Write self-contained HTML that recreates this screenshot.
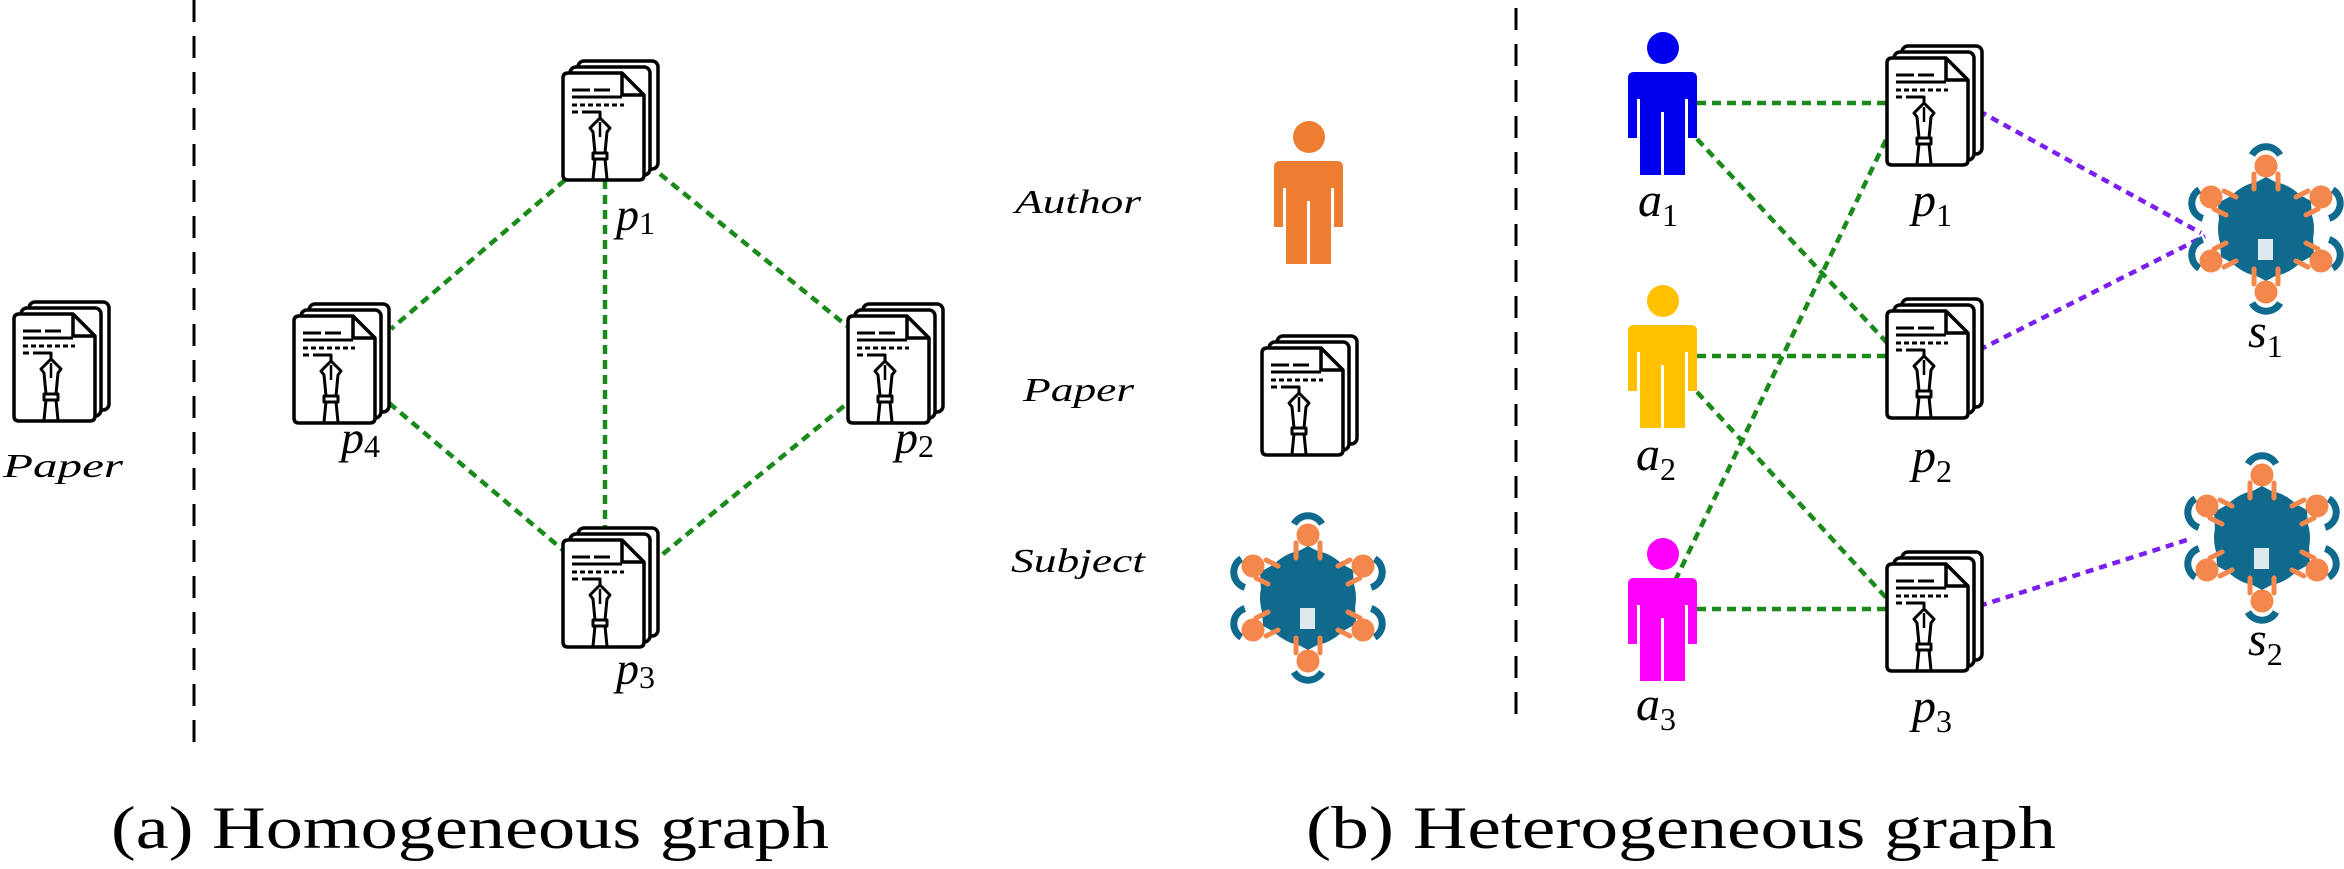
<!DOCTYPE html>
<html><head><meta charset="utf-8"><style>
html,body{margin:0;padding:0;background:#fff;width:2344px;height:869px;overflow:hidden}
svg{display:block}
.it{font-family:"Liberation Serif",serif;font-style:italic}
.cap{font-family:"Liberation Serif",serif}
</style></head><body>
<svg width="2344" height="869" viewBox="0 0 2344 869" xmlns="http://www.w3.org/2000/svg">
<defs>
<g id="paper" fill="#fff" stroke="#000" stroke-width="3.5" stroke-linejoin="round">
  <rect x="18" y="0" width="80" height="108" rx="6"/>
  <rect x="10" y="6" width="80" height="108" rx="6"/>
  <path d="M8,12 H62 L84,34 V114 Q84,119 79,119 H8 Q3,119 3,114 V17 Q3,12 8,12 Z"/>
  <path d="M62,12 V34 H84" fill="none"/>
  <g fill="none" stroke-width="3">
    <path d="M12,29 H30 M34,29 H50 M12,36 H62 M12,51 H18 M22,51 H40 V57"/>
    <path d="M12,44 H64" stroke-dasharray="5 3"/>
  </g>
  <path d="M40,57 L50,67 L47,71 L45,92 H35 L33,71 L30,67 Z" stroke-width="3"/>
  <path d="M40,61 V76" fill="none" stroke-width="2.5"/>
  <rect x="33" y="92" width="14" height="6" stroke-width="3"/>
  <path d="M35,98 L33,118 M45,98 L47,118" fill="none" stroke-width="3"/>
</g>
<g id="person">
  <circle cx="35" cy="-24" r="16"/>
  <path d="M6,0 H63 Q69,0 69,6 V66 H60 V27 H57 V103 H36 V40 H33 V103 H12 V27 H9 V66 H0 V6 Q0,0 6,0 Z"/>
</g>
<g id="subj">
  <g stroke="#0f6a8e" stroke-width="7" fill="none">
    <path d="M-14,-74 A16,16 0 0 1 14,-74" />
    <path d="M-14,74 A16,16 0 0 0 14,74" />
    <path d="M-63,-45 A16,16 0 0 0 -62,-16" transform="rotate(-5)"/>
    <path d="M63,-45 A16,16 0 0 1 62,-16" transform="rotate(5)"/>
    <path d="M-63,45 A16,16 0 0 1 -62,16" transform="rotate(5)"/>
    <path d="M63,45 A16,16 0 0 0 62,16" transform="rotate(-5)"/>
  </g>
  <polygon points="0,-52 45,-28 48,26 0,52 -45,28 -48,-26" fill="#0f6a8e"/>
  <circle r="48" fill="#0f6a8e"/>
  <g fill="#f4874b" stroke="#f4874b">
    <circle cx="0" cy="-63" r="11"/><circle cx="0" cy="63" r="11"/>
    <circle cx="-55" cy="-32" r="11"/><circle cx="55" cy="-32" r="11"/>
    <circle cx="-55" cy="32" r="11"/><circle cx="55" cy="32" r="11"/>
    <g stroke-width="5" stroke-linecap="round">
      <path d="M-12,-55 L-12,-40 M12,-55 L12,-40 M-12,55 L-12,40 M12,55 L12,40"/>
      <path d="M-42,-38 L-30,-32 M-52,-20 L-40,-14 M42,-38 L30,-32 M52,-20 L40,-14"/>
      <path d="M-42,38 L-30,32 M-52,20 L-40,14 M42,38 L30,32 M52,20 L40,14"/>
    </g>
  </g>
  <rect x="-8" y="10" width="15" height="21" fill="#dfe8ee"/>
</g>
</defs>

<line x1="194" y1="0" x2="194" y2="743" stroke="#000" stroke-width="3" stroke-dasharray="22 14"/>
<line x1="1516" y1="8" x2="1516" y2="716" stroke="#000" stroke-width="3" stroke-dasharray="22 14"/>

<g stroke="#1a8a1a" stroke-width="4.5" stroke-dasharray="9 6" fill="none">
  <line x1="565" y1="180" x2="391" y2="329"/>
  <line x1="660" y1="174" x2="847" y2="326"/>
  <line x1="605" y1="180" x2="605" y2="528"/>
  <line x1="389" y1="403" x2="563" y2="550"/>
  <line x1="844" y1="406" x2="658" y2="558"/>
</g>

<use href="#paper" x="11" y="302"/>
<text class="it" x="3" y="477" font-size="34" textLength="120" lengthAdjust="spacingAndGlyphs">Paper</text>
<use href="#paper" x="560" y="61"/>
<use href="#paper" x="291" y="304"/>
<use href="#paper" x="845" y="304"/>
<use href="#paper" x="560" y="528"/>
<text class="it" x="616" y="230" font-size="46">p<tspan font-style="normal" font-size="32" dy="4">1</tspan></text>
<text class="it" x="341" y="453" font-size="46">p<tspan font-style="normal" font-size="32" dy="4">4</tspan></text>
<text class="it" x="895" y="453" font-size="46">p<tspan font-style="normal" font-size="32" dy="4">2</tspan></text>
<text class="it" x="616" y="684" font-size="46">p<tspan font-style="normal" font-size="32" dy="4">3</tspan></text>

<text class="it" x="1015" y="213" font-size="34" textLength="126" lengthAdjust="spacingAndGlyphs">Author</text>
<text class="it" x="1023" y="401" font-size="34" textLength="111" lengthAdjust="spacingAndGlyphs">Paper</text>
<text class="it" x="1011" y="572" font-size="34" textLength="134" lengthAdjust="spacingAndGlyphs">Subject</text>
<use href="#person" x="1274" y="161" fill="#ed7d31"/>
<use href="#paper" x="1259" y="336"/>
<use href="#subj" x="1308" y="598"/>

<g stroke="#1a8a1a" stroke-width="4.5" stroke-dasharray="9 6" fill="none">
  <line x1="1697" y1="103" x2="1898" y2="103"/>
  <line x1="1697" y1="356" x2="1898" y2="356"/>
  <line x1="1697" y1="609" x2="1898" y2="609"/>
  <line x1="1697" y1="139" x2="1891" y2="347"/>
  <line x1="1697" y1="392" x2="1891" y2="603"/>
  <line x1="1675" y1="581" x2="1905" y2="100"/>
</g>
<g stroke="#7a1ff0" stroke-width="4.5" stroke-dasharray="8 6" fill="none">
  <line x1="1979" y1="111" x2="2201" y2="233"/>
  <line x1="1979" y1="350" x2="2205" y2="236"/>
  <line x1="1979" y1="606" x2="2190" y2="539"/>
</g>

<use href="#person" x="1628" y="72" fill="#0000ee"/>
<use href="#person" x="1628" y="325" fill="#ffc000"/>
<use href="#person" x="1628" y="578" fill="#ff00ff"/>
<use href="#paper" x="1884" y="46"/>
<use href="#paper" x="1884" y="299"/>
<use href="#paper" x="1884" y="552"/>
<use href="#subj" x="2266" y="229"/>
<use href="#subj" x="2262" y="538"/>

<text class="it" x="1638" y="216" font-size="48">a<tspan font-style="normal" font-size="32" dy="10">1</tspan></text>
<text class="it" x="1636" y="470" font-size="48">a<tspan font-style="normal" font-size="32" dy="10">2</tspan></text>
<text class="it" x="1636" y="720" font-size="48">a<tspan font-style="normal" font-size="32" dy="10">3</tspan></text>
<text class="it" x="1912" y="216" font-size="48">p<tspan font-style="normal" font-size="32" dy="10">1</tspan></text>
<text class="it" x="1912" y="472" font-size="48">p<tspan font-style="normal" font-size="32" dy="10">2</tspan></text>
<text class="it" x="1912" y="722" font-size="48">p<tspan font-style="normal" font-size="32" dy="10">3</tspan></text>
<text class="it" x="2248" y="347" font-size="48">s<tspan font-style="normal" font-size="32" dy="10">1</tspan></text>
<text class="it" x="2248" y="655" font-size="48">s<tspan font-style="normal" font-size="32" dy="10">2</tspan></text>

<text class="cap" x="111" y="848" font-size="60" textLength="718" lengthAdjust="spacingAndGlyphs">(a) Homogeneous graph</text>
<text class="cap" x="1306" y="848" font-size="60" textLength="750" lengthAdjust="spacingAndGlyphs">(b) Heterogeneous graph</text>
</svg>
</body></html>
